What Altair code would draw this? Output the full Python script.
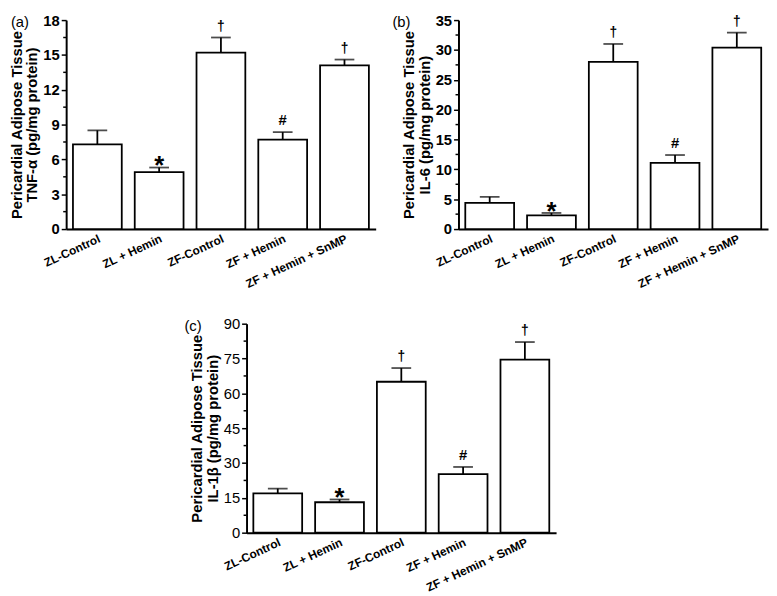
import altair as alt
import pandas as pd

groups = ["ZL-Control", "ZL + Hemin", "ZF-Control", "ZF + Hemin", "ZF + Hemin + SnMP"]
sig_marks = ["", "*", "†", "#", "†"]

tnf_mean = [7.3, 4.9, 15.2, 7.7, 14.1]
tnf_upper = [8.5, 5.3, 16.5, 8.35, 14.6]
tnf_ticks = [0, 3, 6, 9, 12, 15, 18]
tnf_minor = [1.5, 4.5, 7.5, 10.5, 13.5, 16.5]

il6_mean = [4.4, 2.3, 28.0, 11.1, 30.4]
il6_upper = [5.4, 2.7, 31.0, 12.4, 32.9]
il6_ticks = [0, 5, 10, 15, 20, 25, 30, 35]
il6_minor = [2.5, 7.5, 12.5, 17.5, 22.5, 27.5, 32.5]

il1b_mean = [16.9, 13.1, 65.0, 25.2, 74.5]
il1b_upper = [19.0, 14.3, 70.9, 28.3, 82.1]
il1b_ticks = [0, 15, 30, 45, 60, 75, 90]
il1b_minor = [7.5, 22.5, 37.5, 52.5, 67.5, 82.5]

FONT = "Liberation Sans"
W, H = 314, 212


def panel(mean, upper, ticks, minor, title2, tag, tag_x, bold_labels=True):
    df = pd.DataFrame({"group": groups, "mean": mean, "upper": upper, "mark": sig_marks})
    x = alt.X(
        "group:N", sort=groups, title=None,
        scale=alt.Scale(paddingInner=0.21, paddingOuter=0.11),
        axis=alt.Axis(labelAngle=335, labelAlign="right", labelBaseline="top",
                      labelFont=FONT, labelFontSize=12, labelFontWeight="bold",
                      labelColor="black", ticks=False, domainColor="black",
                      domainWidth=2, labelPadding=4, grid=False, labelOverlap=False),
    )
    yscale = alt.Scale(domain=[0, ticks[-1]], nice=False, zero=True)
    yaxis = alt.Axis(
        values=ticks, tickCount=len(ticks) + 5, labelOverlap=False,
        tickSize=5, tickWidth=1.5, tickColor="black", domainColor="black", domainWidth=2,
        labelFont=FONT, labelFontSize=15,
        labelFontWeight="bold" if bold_labels else "normal",
        labelColor="black", labelPadding=2, grid=False,
        title=["Pericardial Adipose Tissue", title2],
        titleFont=FONT, titleFontSize=15, titleFontWeight="bold",
        titleLineHeight=16, titlePadding=3, titleColor="black",
    )
    base = alt.Chart(df)
    bars = base.mark_bar(fill="white", stroke="black", strokeWidth=1.8).encode(
        x=x, y=alt.Y("mean:Q", scale=yscale, axis=yaxis)
    )
    minor_ticks = alt.Chart(pd.DataFrame({"v": minor})).mark_rule(
        color="black", strokeWidth=1.5
    ).encode(y=alt.Y("v:Q", scale=yscale, axis=yaxis), x=alt.value(-3), x2=alt.value(0))
    err = base.mark_rule(color="black", strokeWidth=1.8).encode(
        x=x, y="mean:Q", y2="upper:Q"
    )
    cap = base.mark_tick(color="black", thickness=1.8, size=20).encode(
        x=x, y="upper:Q"
    )
    star = base.transform_filter(alt.datum.mark == "*").mark_text(
        font=FONT, fontWeight="bold", fontSize=26, baseline="alphabetic", dy=7, color="black"
    ).encode(x=x, y="upper:Q", text="mark:N")
    dag = base.transform_filter(alt.datum.mark == "†").mark_text(
        font=FONT, fontWeight="bold", fontSize=14, baseline="alphabetic", dy=-7, color="black"
    ).encode(x=x, y="upper:Q", text="mark:N")
    hsh = base.transform_filter(alt.datum.mark == "#").mark_text(
        font=FONT, fontWeight="bold", fontSize=15, baseline="alphabetic", dy=-7, color="black"
    ).encode(x=x, y="upper:Q", text="mark:N")
    lab = alt.Chart(pd.DataFrame({"t": [tag]})).mark_text(
        font=FONT, fontSize=15, align="left", baseline="middle", color="black"
    ).encode(text="t:N", x=alt.value(tag_x), y=alt.value(2))
    return alt.layer(bars, minor_ticks, err, cap, star, dag, hsh, lab).properties(width=W, height=H)


pa = panel(tnf_mean, tnf_upper, tnf_ticks, tnf_minor, "TNF-α (pg/mg protein)", "(a)", -56)
pb = panel(il6_mean, il6_upper, il6_ticks, il6_minor, "IL-6 (pg/mg protein)", "(b)", -67)
pc = panel(il1b_mean, il1b_upper, il1b_ticks, il1b_minor, "IL-1β (pg/mg protein)", "(c)", -63,
           bold_labels=False)

spacer = alt.Chart(pd.DataFrame({"v": [0]})).mark_point(opacity=0).encode(
    x=alt.value(0), y=alt.value(0)
).properties(width=183, height=H)

row1 = alt.hconcat(pa, pb, spacing=84, bounds="flush")
row2 = alt.hconcat(spacer, pc, spacing=0, bounds="flush")

chart = alt.vconcat(row1, row2, spacing=26).properties(
    padding=0, background="white"
).configure_view(stroke="transparent")

chart.save("out.html", embed_options={"renderer": "svg", "actions": False})
